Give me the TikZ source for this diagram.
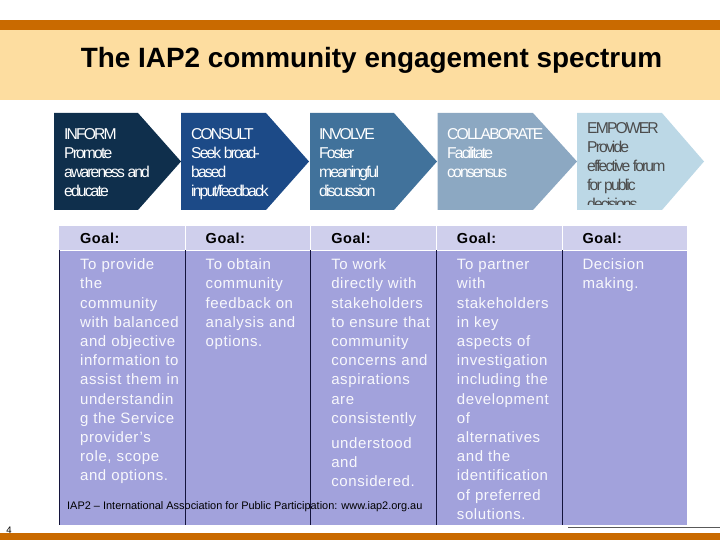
\documentclass[tikz,border=0pt]{standalone}
\usepackage{fontspec}
\setmainfont{Liberation Sans}
\newfontfamily\cellfont[LetterSpace=4]{Liberation Sans}
\newfontfamily\arrowfont[LetterSpace=-12]{Liberation Sans}
\usetikzlibrary{matrix}
\definecolor{barorange}{HTML}{C96A00}
\definecolor{bandyellow}{HTML}{FDDDA0}
\definecolor{headlilac}{HTML}{CFCFEC}
\definecolor{celllilac}{HTML}{A2A2DC}
\definecolor{ruleblue}{HTML}{14143C}
\definecolor{informblue}{HTML}{0F2F4C}
\definecolor{consultblue}{HTML}{1C4A87}
\definecolor{involveblue}{HTML}{41729B}
\definecolor{collabblue}{HTML}{8CA8C2}
\definecolor{empowerblue}{HTML}{BCD8E6}
\tikzset{
table/.style={
  matrix of nodes,
  inner sep=0pt,
  row sep=0pt,
  column sep=0pt,
  nodes={rectangle,text width=125.6pt,align=left,inner sep=0pt,
    font=\fontsize{15}{19.2}\cellfont,
    execute at begin node={\leftskip=21pt}},
  nodes in empty cells
},
row 1/.style={nodes={fill=headlilac,text=black,text height=17pt,text depth=7pt,font=\fontsize{14.5}{19.2}\cellfont\bfseries}},
row 2/.style={nodes={fill=celllilac,text=white!92!celllilac,text height=19.5pt,text depth=255.5pt}},
arrowtext/.style={anchor=north west,inner sep=0pt,align=left,
  font=\fontsize{15.7}{19}\arrowfont}
}
\begin{document}
\begin{tikzpicture}[x=1pt,y=-1pt]
\useasboundingbox (0,0) rectangle (720,540);
% the bars
\fill[barorange] (0,20) rectangle (720,30);
\fill[bandyellow] (0,30) rectangle (720,100);
\fill[barorange] (0,533) rectangle (720,540);
\node (title) at (371.5,60.5) {\fontsize{27.9}{30}\bfseries\selectfont The IAP2 community engagement spectrum};
% the arrows
\foreach \x/\y/\z/\c in {54/138/181/informblue,181/266/309/consultblue,310/394/437/involveblue,437.5/533/577/collabblue,577/662/704/empowerblue}
{
  \fill[\c] (\x,113) -- (\y,113) -- (\z,161.5) -- (\y,210) -- (\x,210) -- cycle;
}
\node[arrowtext,text=white] (inform) at (64,128.5) {INFORM\\Promote\\awareness and\\educate};
\node[arrowtext,text=white] (consult) at (191,128.5) {CONSULT\\Seek broad-\\based\\input/feedback};
\node[arrowtext,text=white] (involve) at (319,128.5) {INVOLVE\\Foster\\meaningful\\discussion};
\node[arrowtext,text=white] (collaborate) at (447,128.5) {COLLABORATE\\Facilitate\\consensus};
\begin{scope}
\clip (577,113) rectangle (704,204.5);
\node[arrowtext,text=black!70] (empower) at (587,122) {EMPOWER\\Provide\\effective forum\\for public\\decisions};
\end{scope}
% the table
\matrix (mat) [table,anchor=north west] at (58.9,226) {
    Goal: & Goal: & Goal: & Goal: & Goal: \\
    {To provide\\the\\community\\with balanced\\and objective\\information to\\assist them in\\understandin\\g the Service\\provider’s\\role, scope\\and options.}
    & {To obtain\\community\\feedback on\\analysis and\\options.}
    & {To work\\directly with\\stakeholders\\to ensure that\\community\\concerns and\\aspirations\\are\\consistently\\[6pt]understood\\and\\considered.}
    & {To partner\\with\\stakeholders\\in key\\aspects of\\investigation\\including the\\development\\of\\alternatives\\and the\\identification\\of preferred\\solutions.}
    & {Decision\\making.} \\
};
% the matrix rules
\draw[white] (mat-2-1.north west) -- (mat-2-5.north east);
\foreach \x in {1,...,4}
{
  \draw[white] (mat-1-\x.north east) -- (mat-1-\x.south east);
  \draw[ruleblue] (mat-2-\x.north east) -- (mat-2-\x.south east);
}
\draw[ruleblue] (mat-2-1.north west) -- (mat-2-1.south west);
% the small print
\node[anchor=west,inner sep=0pt,font=\fontsize{10.95}{12}\selectfont] (source) at (67,507) {IAP2 – International Association for Public Participation: www.iap2.org.au};
\node[inner sep=0pt,font=\fontsize{9.5}{10}\selectfont] (pagenum) at (9,530) {4};
\coordinate (scrapa) at (568,527);
\coordinate (scrapb) at (720,527);
\draw[black!65,line width=.8pt] (scrapa) -- (scrapb);
\end{tikzpicture}
\end{document}
